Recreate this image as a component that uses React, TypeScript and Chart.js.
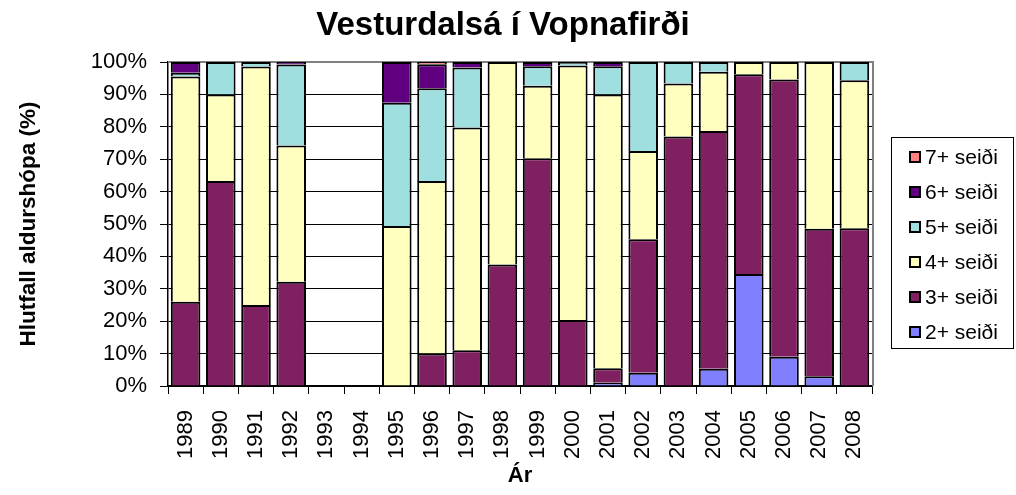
import React, { useEffect, useRef } from 'react';
import { Chart, registerables } from 'chart.js';

Chart.register(...registerables);

const FONT = "'Liberation Sans', Arial, Helvetica, sans-serif";

const chartTitle = 'Vesturdalsá í Vopnafirði';
const yAxisTitle = 'Hlutfall aldurshópa (%)';
const xAxisTitle = 'Ár';

const years = [
  '1989', '1990', '1991', '1992', '1993', '1994', '1995', '1996', '1997', '1998',
  '1999', '2000', '2001', '2002', '2003', '2004', '2005', '2006', '2007', '2008',
];

const seriesLabels = ['2+ seiði', '3+ seiði', '4+ seiði', '5+ seiði', '6+ seiði', '7+ seiði'];
const seriesColors = ['#8080FF', '#7F2060', '#FFFFC0', '#A0DFE0', '#600080', '#FF8080'];

const age2 = [null, null, null, null, null, null, null, null, null, null, null, null, 1, 4.1, null, 5.3, 34.6, 9, 3, null];
const age3 = [26, 63.3, 25, 32.2, null, null, null, 10, 11, 37.5, 70.3, 20.4, 4.5, 41.2, 77, 73.4, 61.6, 85.6, 45.5, 48.7];
const age4 = [69.5, 26.7, 73.6, 42, null, null, 49.4, 53.3, 68.8, 62.5, 22.4, 78.5, 84.5, 27.2, 16.4, 18.3, 3.8, 5.4, 51.5, 45.7];
const age5 = [1.2, 10, 1.4, 25, null, null, 38, 28.6, 18.5, null, 6, 1.1, 8.7, 27.5, 6.6, 3, null, null, null, 5.6];
const age6 = [3.3, null, null, 0.8, null, null, 12.6, 7.4, 1.7, null, 1.3, null, 1.3, null, null, null, null, null, null, null];
const age7 = [null, null, null, null, null, null, null, 0.7, null, null, null, null, null, null, null, null, null, null, null, null];

const yTickStep = 10;
const yMax = 100;

const decorPlugin = {
  id: 'decor',
  beforeDatasetsDraw(chart: any) {
    const { ctx, chartArea: a } = chart;
    ctx.save();
    ctx.strokeStyle = '#808080';
    ctx.lineWidth = 2;
    ctx.beginPath();
    ctx.moveTo(a.left, a.top);
    ctx.lineTo(a.right + 1, a.top);
    ctx.lineTo(a.right + 1, a.bottom);
    ctx.stroke();
    ctx.restore();
  },
  afterDraw(chart: any) {
    const { ctx } = chart;
    const items = chart.data.datasets.slice().reverse();
    ctx.save();
    ctx.strokeStyle = '#000';
    ctx.lineWidth = 1;
    ctx.strokeRect(891.5, 137.5, 122, 211);
    ctx.font = `21px ${FONT}`;
    ctx.textBaseline = 'middle';
    ctx.textAlign = 'left';
    items.forEach((ds: any, i: number) => {
      const cy = 157 + i * 35;
      ctx.fillStyle = ds.backgroundColor;
      ctx.fillRect(909, cy - 6, 12, 12);
      ctx.lineWidth = 2;
      ctx.strokeStyle = '#000';
      ctx.strokeRect(910, cy - 5, 10, 10);
      ctx.fillStyle = '#000';
      ctx.fillText(ds.label, 925, cy + 1);
    });
    ctx.restore();
  },
};

export default function App() {
  const canvasRef = useRef<HTMLCanvasElement | null>(null);

  useEffect(() => {
    const canvas = canvasRef.current;
    if (!canvas) return;
    const seriesData = [age2, age3, age4, age5, age6, age7];
    const chart = new Chart(canvas, {
      type: 'bar',
      data: {
        labels: years,
        datasets: seriesData.map((d, i) => ({
          label: seriesLabels[i],
          data: d,
          backgroundColor: seriesColors[i],
          borderColor: '#000000',
          borderWidth: 2,
          borderSkipped: 'start',
          barPercentage: 0.84,
          categoryPercentage: 1,
        })),
      },
      options: {
        responsive: false,
        animation: false,
        devicePixelRatio: 1,
        layout: { padding: { left: 0, right: 10, top: 0, bottom: 0 } },
        plugins: {
          legend: { display: false },
          tooltip: { enabled: false },
          title: {
            display: true,
            text: chartTitle,
            color: '#000',
            font: { family: FONT, size: 33, weight: 'bold', lineHeight: 1.2 },
            padding: { top: 6, bottom: 16.4 },
          },
        },
        scales: {
          x: {
            stacked: true,
            afterFit(scale: any) { scale.height = 109; },
            grid: {
              display: true,
              drawOnChartArea: false,
              drawTicks: true,
              tickLength: 8,
              color: '#000',
              lineWidth: 1,
              offset: true,
            },
            border: { display: true, color: '#000', width: 1.5 },
            ticks: {
              color: '#000',
              font: { family: FONT, size: 22 },
              minRotation: 90,
              maxRotation: 90,
              padding: 16,
              autoSkip: false,
            },
            title: {
              display: true,
              text: xAxisTitle,
              color: '#000',
              font: { family: FONT, size: 22, weight: 'bold', lineHeight: 1.2 },
              padding: { top: 0, bottom: 6 },
            },
          },
          y: {
            stacked: true,
            min: 0,
            max: yMax,
            afterFit(scale: any) { scale.width = 168; },
            grid: {
              display: true,
              drawOnChartArea: true,
              drawTicks: true,
              tickLength: 8,
              color: '#000',
              lineWidth: 1,
            },
            border: { display: true, color: '#000', width: 1.5 },
            ticks: {
              stepSize: yTickStep,
              color: '#000',
              font: { family: FONT, size: 22 },
              padding: 13,
              callback: (v: any) => `${v}%`,
            },
            title: {
              display: true,
              text: yAxisTitle,
              color: '#000',
              font: { family: FONT, size: 22.5, weight: 'bold', lineHeight: 1.2 },
              padding: { top: 15, bottom: 0 },
            },
          },
          legendSpace: {
            type: 'linear',
            position: 'right',
            display: true,
            afterFit(scale: any) { scale.width = 134; },
            grid: { display: false, drawTicks: false },
            border: { display: false },
            ticks: { display: false },
            title: { display: false },
          },
        },
      },
      plugins: [decorPlugin],
    } as any);
    return () => chart.destroy();
  }, []);

  return (
    <div style={{ position: 'absolute', left: 0, top: 0, width: 1016, height: 495, background: '#fff' }}>
      <canvas ref={canvasRef} width={1016} height={495} style={{ display: 'block', width: 1016, height: 495 }} />
    </div>
  );
}
